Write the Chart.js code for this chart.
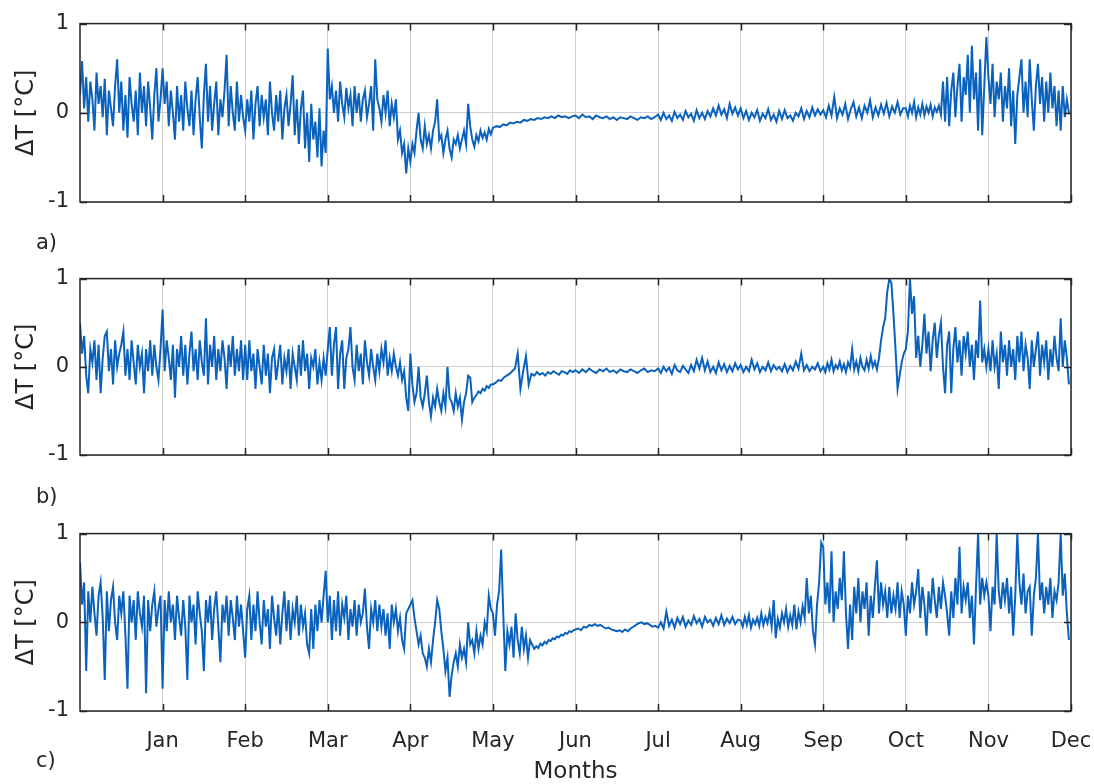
<!DOCTYPE html>
<html>
<head>
<meta charset="utf-8">
<script src="https://cdn.jsdelivr.net/npm/chart.js@4.4.1/dist/chart.umd.min.js"></script>
<style>
  html, body { margin: 0; padding: 0; background: #ffffff; }
  body { width: 1094px; height: 784px; position: relative; overflow: hidden; }
  canvas { position: absolute; left: 0; }
  .lbl { position: absolute; font-family: "DejaVu Sans", sans-serif; font-size: 21px; color: #262626; }
</style>
</head>
<body>
<canvas id="ca" width="1094" height="260" style="top:0px"></canvas>
<canvas id="cb" width="1094" height="260" style="top:255px"></canvas>
<canvas id="cc" width="1094" height="274" style="top:510px"></canvas>
<div class="lbl" style="left:36px; top:230px;">a)</div>
<div class="lbl" style="left:36px; top:484px;">b)</div>
<div class="lbl" style="left:36px; top:748px;">c)</div>
<script>
// ---- data: ΔT readings in hundredths of a degree, one list per month interval ----
const monthLabels = ['Jan','Feb','Mar','Apr','May','Jun','Jul','Aug','Sep','Oct','Nov','Dec'];
const monthTicks = [1,2,3,4,5,6,7,8,9,10,11,12];
const yTicks = [-1, 0, 1];

const seriesA = [
  [20,58,5,40,-10,35,15,-20,45,10,30,-5,38,-25,25,5,-15,30,60,0,35,-20,20,-28,40,10,-10,25,-25,45,0,30,-15,35,5,-30,20,50,-10,15],
  [50,10,35,-15,25,0,-30,30,-10,20,-20,35,5,-15,25,-25,15,40,-5,-40,20,55,-10,30,-20,10,35,-25,15,-5,25,65,-15,30,0,-20,35,-10,20,-5],
  [-20,15,-10,25,-30,10,30,-15,20,-5,15,-25,35,0,-20,20,-10,25,-30,5,20,-15,10,42,-25,15,-35,5,25,-40,0,-55,10,-30,-10,-50,5,-60,-20,-45],
  [72,15,30,0,25,-10,35,10,-5,28,5,20,-15,30,0,22,-10,15,25,-5,10,30,-20,60,15,5,-10,20,0,25,-15,10,-5,15,-30,-20,-45,-35,-68,-40],
  [-55,-35,-45,-20,0,-30,-40,-15,-35,-25,-40,-20,-10,15,-30,-25,-45,-30,-20,-40,-50,-30,-35,-25,-40,-30,-20,-35,10,-15,-30,-38,-25,-32,-20,-28,-22,-30,-18,-24],
  [-17,-15,-16,-13,-14,-11,-12,-10,-11,-8,-9,-7,-8,-6,-7,-5,-6,-4,-6,-3,-5,-4,-6,-4],
  [-3,-6,-2,-5,-4,-7,-3,-5,-6,-4,-7,-5,-8,-5,-6,-7,-4,-6,-8,-5,-6,-4,-7,-5],
  [-2,-8,0,-7,-3,-9,1,-6,-2,-8,2,-5,-1,-9,3,-6,0,-7,2,-4,5,-3,8,-2,4,-6,10,-1,6,-3],
  [5,-6,2,-8,0,-5,3,-9,-1,-6,4,-8,-2,-10,2,-7,3,-6,-3,-9,0,-4,5,-7,2,-5,6,-3,4,-2],
  [3,-5,8,-3,18,-6,5,-2,10,-7,4,12,-4,6,-6,8,0,14,-5,6,-3,9,-1,11,-4,7,0,12,-2,5],
  [5,-4,8,0,12,-5,6,-2,10,-3,7,0,9,-4,6,1,8,-2,35,-10,40,-15,25,45,-5,30,55,-10,40,20,65,0,75,15,45,-20,60,-25,30,85],
  [40,10,55,-5,35,15,45,-10,30,5,50,-15,25,-35,20,40,60,0,35,-5,60,15,-20,30,55,10,40,-10,35,0,45,5,30,-15,25,-20,30,-5,15,0]
];

const seriesB = [
  [50,15,35,-10,-30,20,5,30,-15,25,-30,10,35,40,-5,20,-20,30,0,15,25,40,-10,20,-15,30,5,-20,25,0,15,-30,20,-5,30,-10,25,0,-15,20],
  [65,-5,30,10,-15,25,-35,20,0,35,-10,25,-20,15,40,-5,20,-15,30,5,-10,55,-20,25,0,35,-15,20,-5,30,10,-25,25,0,35,-10,20,-5,30,-15],
  [25,-15,30,-5,15,-25,20,0,-20,25,-10,15,-30,10,20,-15,5,25,-20,10,-5,20,-25,15,0,-15,25,-10,30,-5,15,-25,10,0,20,-20,5,-15,10,-10],
  [20,45,-10,25,45,-25,15,30,-25,10,20,45,0,-15,25,-5,15,-20,30,5,-10,20,0,-15,15,-5,20,5,30,-10,10,-5,15,0,-10,5,-15,-5,-35,-50],
  [15,-20,-40,-30,0,-35,-45,-30,-10,-40,-56,-35,-45,-25,-40,-50,-30,-45,0,-35,-40,-50,-30,-45,-35,-60,-40,-30,-10,-12,-40,-35,-32,-28,-30,-25,-27,-22,-24,-20],
  [-20,-18,-15,-16,-12,-10,-8,-5,-2,15,-25,-5,12,-20,-8,-10,-6,-9,-7,-10,-6,-8,-5,-7,-9,-5,-6,-8,-4,-6],
  [-4,-7,-3,-6,-2,-5,-7,-3,-5,-2,-6,-4,-7,-3,-5,-6,-3,-5,-7,-4,-2,-6,-4,-5],
  [-2,-7,0,-5,-1,-8,2,-4,-6,1,-3,-7,2,-5,8,-2,10,-4,6,-6,0,-7,5,-4,3,-6,1,-5,4,-3],
  [2,-6,0,-5,8,-3,4,-6,0,-4,5,-5,2,-3,0,-5,3,-6,1,-4,6,-2,15,-4,2,-5,0,-3,4,-5],
  [0,-6,4,-3,8,-5,2,-2,6,-4,3,-6,5,-1,20,-3,6,-5,10,0,-4,8,-2,12,0,6,-3,10,30,45,55,85,100,95,60,20,-25,-10,5,15],
  [20,40,100,60,80,10,35,0,25,60,15,40,-5,30,50,10,35,50,0,-30,25,40,-30,20,45,5,30,-10,35,15,40,0,25,-15,30,10,75,5,20,0],
  [20,-5,30,0,15,-25,40,5,25,-10,30,0,20,-15,35,5,40,-5,25,10,-25,30,0,20,40,-10,25,5,30,-15,20,0,35,10,-5,55,0,30,10,-20]
];

const seriesC = [
  [68,20,45,-55,35,0,40,10,-15,30,45,5,-65,35,-10,25,40,0,-20,30,10,35,-15,-75,30,0,25,-20,35,10,-5,30,-80,25,-10,20,35,-5,15,30],
  [-75,25,-10,35,0,20,-20,30,5,-15,25,-5,-65,30,0,20,-25,35,10,-10,-55,25,0,30,-20,15,35,-5,-45,20,0,30,-15,25,5,-20,30,-5,20,-10],
  [-40,15,30,-20,20,-10,35,0,-25,25,-5,15,-30,30,5,-15,20,-25,10,35,-10,25,-20,15,0,30,-15,20,-5,10,-25,-35,15,-30,20,-10,25,0,30,58],
  [0,30,-20,25,-10,35,-15,20,5,30,-20,15,-5,25,-15,20,0,10,38,-5,-30,15,0,25,-10,20,-5,15,-15,10,-30,20,0,15,-10,5,-20,-30,10,15],
  [20,25,5,-10,-25,-15,-35,-40,-50,-30,-45,-20,0,25,15,-10,-30,-55,-40,-84,-60,-45,-35,-50,-25,-40,-30,-45,0,-25,-20,-35,-10,-30,-15,-25,0,-10,30,15],
  [10,-15,20,35,82,10,-55,-10,-25,-5,-40,10,-20,-35,-5,-30,-15,-40,-20,-25,-30,-27,-29,-24,-26,-22,-24,-20,-21,-18,-19,-16,-17,-14,-15,-12,-13,-10,-11,-9],
  [-8,-7,-9,-5,-6,-3,-4,-2,-4,-3,-5,-7,-6,-8,-9,-10,-9,-11,-8,-10,-7,-5,-3,-1,0,-2,-1,-3,-5,-4],
  [-6,0,-7,12,-4,3,-6,5,-2,6,-5,2,-3,7,-1,4,-5,6,0,3,-4,5,-2,8,-3,4,-1,6,-2,3],
  [2,-5,6,-3,8,-6,3,-2,5,-4,10,-3,6,-1,12,-5,25,-18,4,-6,10,0,15,-5,8,-3,20,-8,12,0,18,5,50,10,30,-10,-25,20,45,90],
  [85,20,45,10,80,0,35,15,50,25,80,10,-30,20,-20,40,10,50,0,35,15,45,-15,30,5,40,70,10,45,20,35,5,40,10,30,15,45,5,35,20],
  [-15,30,10,45,20,35,60,5,40,20,-15,35,10,50,25,5,40,15,45,30,10,-15,35,5,50,20,85,10,40,25,45,5,30,-25,40,100,20,50,30,45],
  [30,-10,40,20,100,35,15,45,25,50,10,40,-15,30,100,45,20,55,10,35,40,-15,30,50,100,25,45,10,40,20,50,5,35,25,45,100,30,55,10,-20]
];

// ---- styling ----
const FONT = 'DejaVu Sans';
const TEXT = '#262626';
const LINE = '#0a62bd';
const GRID = '#cfcfcf';

// month m, reading j of n sits at x = m + j/n ; values are hundredths of a degree
const toPoints = (months) => months.flatMap((vals, m) => vals.map((v, j) => ({ x: m + j / vals.length, y: v / 100 })));

const framePlugin = {
  id: 'frame',
  afterDatasetsDraw(chart) {
    const { ctx, chartArea: a, scales: { x, y } } = chart;
    ctx.save();
    ctx.strokeStyle = TEXT;
    ctx.lineWidth = 1.5;
    ctx.strokeRect(a.left, a.top, a.right - a.left, a.bottom - a.top);
    const L = 7;
    ctx.beginPath();
    x.ticks.forEach(t => {
      const px = Math.round(x.getPixelForValue(t.value)) + 0.5;
      ctx.moveTo(px, a.top); ctx.lineTo(px, a.top + L);
      ctx.moveTo(px, a.bottom); ctx.lineTo(px, a.bottom - L);
    });
    y.ticks.forEach(t => {
      const py = Math.round(y.getPixelForValue(t.value)) + 0.5;
      ctx.moveTo(a.left, py); ctx.lineTo(a.left + L, py);
      ctx.moveTo(a.right, py); ctx.lineTo(a.right - L, py);
    });
    ctx.stroke();
    ctx.restore();
  }
};

function makePanel(id, months, xAxisHeight, showLabels) {
  new Chart(document.getElementById(id), {
    type: 'line',
    data: {
      datasets: [{
        data: toPoints(months),
        borderColor: LINE,
        borderWidth: 2,
        pointRadius: 0,
        tension: 0,
        fill: false
      }]
    },
    options: {
      responsive: false,
      animation: false,
      devicePixelRatio: 1,
      layout: { padding: { top: 18, left: 0, right: 23, bottom: 0 } },
      plugins: { legend: { display: false }, tooltip: { enabled: false } },
      scales: {
        x: {
          type: 'linear', min: 0, max: 12,
          afterBuildTicks: s => { s.ticks = monthTicks.map(v => ({ value: v })); },
          afterFit: s => { s.height = xAxisHeight; },
          ticks: {
            display: showLabels, autoSkip: false, maxRotation: 0, minRotation: 0,
            padding: 2, color: TEXT, font: { family: FONT, size: 21 },
            callback: v => monthLabels[v - 1]
          },
          grid: { color: GRID, drawTicks: true, tickLength: 16, tickColor: 'rgba(0,0,0,0)', lineWidth: 1 },
          border: { display: false },
          title: {
            display: showLabels, text: 'Months', color: TEXT,
            font: { family: FONT, size: 23, lineHeight: 1 }, padding: { top: 0, bottom: 0 }
          }
        },
        y: {
          min: -1, max: 1,
          afterBuildTicks: s => { s.ticks = yTicks.map(v => ({ value: v })); },
          afterFit: s => { s.width = 80; },
          ticks: { padding: 11, color: TEXT, font: { family: FONT, size: 21 } },
          grid: { color: GRID, drawTicks: false, lineWidth: 1 },
          border: { display: false },
          title: {
            display: true, text: 'ΔT [°C]', color: TEXT,
            font: { family: FONT, size: 24, lineHeight: 1 }, padding: { top: 15, bottom: 0 }
          }
        }
      }
    },
    plugins: [framePlugin]
  });
}

makePanel('ca', seriesA, 58, false);
makePanel('cb', seriesB, 60, false);
makePanel('cc', seriesC, 73, true);
</script>
</body>
</html>
